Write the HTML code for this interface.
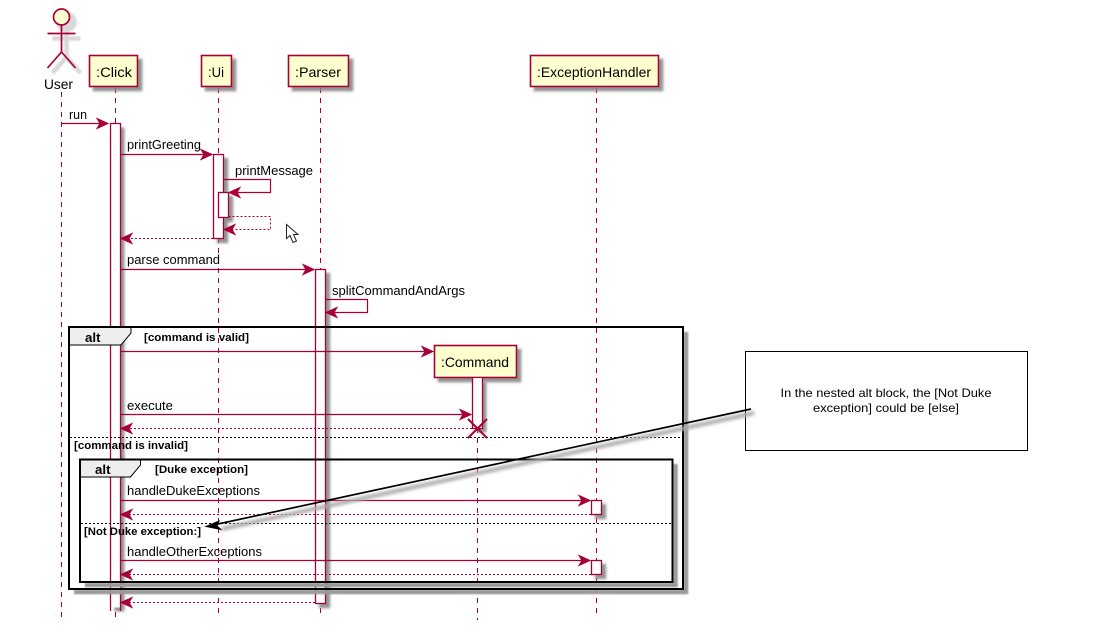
<!DOCTYPE html>
<html>
<head>
<meta charset="utf-8">
<style>
html,body{margin:0;padding:0;background:#fff;width:1106px;height:635px;overflow:hidden}
svg{display:block}
text{font-family:"Liberation Sans",sans-serif;fill:#000}
.t{font-size:13px}
.b{font-size:11px;font-weight:bold}
.h{font-size:14px}
.l{stroke:#A80036;stroke-width:1;stroke-dasharray:5,5;fill:none}
.a{stroke:#A80036;stroke-width:1.2;fill:none}
.d{stroke:#A80036;stroke-width:1;stroke-dasharray:2,2;fill:none}
.p{fill:#FEFECE;stroke:#A80036;stroke-width:1.6}
.ac{fill:#fff;stroke:#A80036;stroke-width:1.3}
.hd{fill:#A80036;stroke:#A80036;stroke-width:1}
.f{fill:none;stroke:#000;stroke-width:2}
</style>
</head>
<body>
<svg width="1106" height="635" viewBox="0 0 1106 635" xmlns="http://www.w3.org/2000/svg">
<defs>
<filter id="s" x="-30%" y="-30%" width="170%" height="170%"><feDropShadow dx="4" dy="4" stdDeviation="1.3" flood-color="#808080" flood-opacity="0.85"/></filter>
<filter id="bl" x="-10%" y="-10%" width="120%" height="120%"><feGaussianBlur stdDeviation="0.9"/></filter>
<filter id="bl2" x="-10%" y="-60%" width="120%" height="220%"><feGaussianBlur stdDeviation="1.5"/></filter>
</defs>

<!-- lifelines -->
<path class="l" d="M61.5 92V617"/>
<path class="l" d="M115.5 88V124M115.5 612V617"/>
<path class="l" d="M218.5 88V617"/>
<path class="l" d="M320.5 88V617"/>
<path class="l" d="M477.5 378V620"/>
<path class="l" d="M596.5 88V617"/>

<!-- actor -->
<g fill="none" stroke="#d8d8d8" stroke-width="4.5" filter="url(#bl)" transform="translate(5,5)">
<circle cx="61.5" cy="17" r="8" fill="#d8d8d8"/>
<path d="M61.5 25V52M47.5 33.5H75.5M61.5 52L47.5 68M61.5 52L75.5 68"/>
</g>
<g fill="none" stroke="#A80036" stroke-width="1.7">
<circle cx="61.5" cy="17" r="8" fill="#FEFECE"/>
<path d="M61.5 25V52M47.5 33.5H75.5M61.5 52L47.5 68M61.5 52L75.5 68"/>
</g>
<text class="h" x="44" y="89" textLength="29" lengthAdjust="spacingAndGlyphs">User</text>

<!-- participants -->
<g filter="url(#s)">
<rect class="p" x="89.5" y="55.5" width="48" height="31"/>
<rect class="p" x="201.5" y="55.5" width="30" height="31"/>
<rect class="p" x="288.5" y="55.5" width="60" height="31"/>
<rect class="p" x="530.5" y="55.5" width="128" height="31"/>
<rect class="p" x="434.5" y="345.5" width="82" height="32"/>
</g>
<text class="h" x="96" y="77" textLength="36" lengthAdjust="spacingAndGlyphs">:Click</text>
<text class="h" x="208" y="77" textLength="16" lengthAdjust="spacingAndGlyphs">:Ui</text>
<text class="h" x="295" y="77" textLength="46" lengthAdjust="spacingAndGlyphs">:Parser</text>
<text class="h" x="537" y="77" textLength="114" lengthAdjust="spacingAndGlyphs">:ExceptionHandler</text>
<text class="h" x="441" y="367" textLength="68" lengthAdjust="spacingAndGlyphs">:Command</text>

<!-- activations -->
<g filter="url(#s)">
<rect x="110.5" y="123.5" width="10" height="484" fill="#fff"/>
<rect class="ac" x="213.5" y="154.5" width="10" height="84"/>
<rect class="ac" x="218.5" y="192.5" width="10" height="25"/>
<rect class="ac" x="315.5" y="269.5" width="10" height="334"/>
<rect x="472.5" y="378" width="10" height="50.5" fill="#fff"/>
<rect class="ac" x="591.5" y="500.5" width="10" height="14"/>
<rect class="ac" x="591.5" y="560.5" width="10" height="14"/>
</g>
<rect x="110.5" y="123.5" width="10" height="484" fill="#fff"/>
<path d="M110.5 611V123.5H120.5V611" fill="none" stroke="#A80036" stroke-width="1.3"/>
<path d="M472.5 378V428.5H482.5V378" fill="none" stroke="#A80036" stroke-width="1.3"/>

<!-- alt frames -->
<path d="M686 332V592H74" fill="none" stroke="#999" stroke-width="4.5" filter="url(#bl)"/>
<path d="M675.5 464V585H85" fill="none" stroke="#999" stroke-width="4.5" filter="url(#bl)"/>
<rect class="f" x="69" y="327" width="614" height="262"/>
<rect class="f" x="80" y="459.5" width="592.5" height="122.5"/>
<path d="M69 327H131V333L121 345H69Z" fill="#eee" stroke="#000" stroke-width="1"/>
<path d="M80 459.5H140.5V465L130.5 477H80Z" fill="#eee" stroke="#000" stroke-width="1"/>
<path class="f" d="M69 327H683M69 327V345M80 459.5H672.5M80 459.5V477"/>
<text x="85" y="342" font-size="13" font-weight="bold" textLength="15.5" lengthAdjust="spacingAndGlyphs">alt</text>
<text x="95" y="474" font-size="13" font-weight="bold" textLength="15.5" lengthAdjust="spacingAndGlyphs">alt</text>
<text class="b" x="144" y="341" textLength="105" lengthAdjust="spacingAndGlyphs">[command is valid]</text>
<text class="b" x="74" y="449" textLength="114" lengthAdjust="spacingAndGlyphs">[command is invalid]</text>
<text class="b" x="155" y="473" textLength="93" lengthAdjust="spacingAndGlyphs">[Duke exception]</text>
<text class="b" x="84" y="535" textLength="117" lengthAdjust="spacingAndGlyphs">[Not Duke exception:]</text>
<path d="M70 437.5H682" stroke="#000" stroke-width="1" stroke-dasharray="2,2" fill="none"/>
<path d="M81 523.5H671.5" stroke="#000" stroke-width="1" stroke-dasharray="2,2" fill="none"/>

<!-- solid arrows -->
<path class="a" d="M61.5 123.5H100"/><path class="hd" d="M108 123.5L97 118.5L100 123.5L97 128.5Z"/>
<path class="a" d="M120.5 154.5H205"/><path class="hd" d="M212 154.5L201 149.5L204 154.5L201 159.5Z"/>
<path class="a" d="M223.5 179.5H270.5V192.5H235"/><path class="hd" d="M229 192.5L240 187.5L237 192.5L240 197.5Z"/>
<path class="a" d="M120.5 269.5H307"/><path class="hd" d="M314 269.5L303 264.5L306 269.5L303 274.5Z"/>
<path class="a" d="M325.5 299.5H367.5V312.5H332"/><path class="hd" d="M326 312.5L337 307.5L334 312.5L337 317.5Z"/>
<path class="a" d="M120.5 351.5H426"/><path class="hd" d="M433 351.5L422 346.5L425 351.5L422 356.5Z"/>
<path class="a" d="M120.5 414.5H464"/><path class="hd" d="M471 414.5L460 409.5L463 414.5L460 419.5Z"/>
<path class="a" d="M120.5 500.5H583"/><path class="hd" d="M590 500.5L579 495.5L582 500.5L579 505.5Z"/>
<path class="a" d="M120.5 560.5H583"/><path class="hd" d="M590 560.5L579 555.5L582 560.5L579 565.5Z"/>

<!-- dashed arrows -->
<path class="d" d="M228.5 216.5H270.5V229.5H230"/><path class="hd" d="M224 229.5L235 224.5L232 229.5L235 234.5Z"/>
<path class="d" d="M213 238.5H128"/><path class="hd" d="M121 238.5L132 233.5L129 238.5L132 243.5Z"/>
<path class="d" d="M472 428.5H128"/><path class="hd" d="M121 428.5L132 423.5L129 428.5L132 433.5Z"/>
<path class="d" d="M591 514.5H128"/><path class="hd" d="M121 514.5L132 509.5L129 514.5L132 519.5Z"/>
<path class="d" d="M591 574.5H128"/><path class="hd" d="M121 574.5L132 569.5L129 574.5L132 579.5Z"/>
<path class="d" d="M315 602.5H128"/><path class="hd" d="M121 602.5L132 597.5L129 602.5L132 607.5Z"/>

<!-- destroy -->
<path d="M468 419L487 438M487 419L468 438" stroke="#A80036" stroke-width="2" fill="none"/>

<!-- message labels -->
<text class="t" x="69" y="119" textLength="18" lengthAdjust="spacingAndGlyphs">run</text>
<text class="t" x="127" y="149" textLength="74" lengthAdjust="spacingAndGlyphs">printGreeting</text>
<text class="t" x="235" y="175" textLength="78" lengthAdjust="spacingAndGlyphs">printMessage</text>
<text class="t" x="127" y="264" textLength="93" lengthAdjust="spacingAndGlyphs">parse command</text>
<text class="t" x="332" y="295" textLength="133" lengthAdjust="spacingAndGlyphs">splitCommandAndArgs</text>
<text class="t" x="127" y="410" textLength="46" lengthAdjust="spacingAndGlyphs">execute</text>
<text class="t" x="127" y="495" textLength="133" lengthAdjust="spacingAndGlyphs">handleDukeExceptions</text>
<text class="t" x="127" y="556" textLength="135" lengthAdjust="spacingAndGlyphs">handleOtherExceptions</text>

<!-- note -->
<rect x="745.5" y="351.5" width="282" height="99" fill="#fff" stroke="#000" stroke-width="1"/>
<text x="886" y="397" font-size="12" text-anchor="middle" textLength="211" lengthAdjust="spacingAndGlyphs">In the nested alt block, the [Not Duke</text>
<text x="886" y="412" font-size="12" text-anchor="middle" textLength="146" lengthAdjust="spacingAndGlyphs">exception] could be [else]</text>
<path d="M754 413L222 529" stroke="#aaa" stroke-width="4" fill="none" filter="url(#bl2)"/>
<path d="M751 409L218 524" stroke="#000" stroke-width="1.7" fill="none"/>
<path d="M206 526.5L219 521L217 526L221 529.5Z" fill="#000" stroke="#000"/>

<!-- cursor -->
<path d="M286.5 224.5V238.5L290 235.5L293 242.5L296.5 241L293.5 234.5H298Z" fill="#fff" stroke="#222" stroke-width="1"/>
</svg>
</body>
</html>
